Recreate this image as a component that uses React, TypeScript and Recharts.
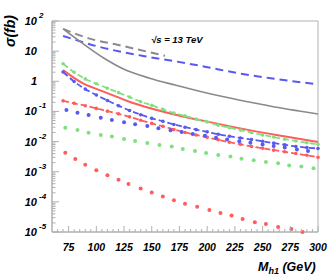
import React from 'react'
import { LineChart, Line, XAxis, YAxis, ReferenceArea } from 'recharts'

// couleurs
const GRAY = '#8a8a8a'
const BLUE = '#5858f2'
const RED = '#ff5c5c'
const GREEN = '#80e080'
const AXIS = '#b0b0b0'
const FONT = '"Liberation Sans", Arial, sans-serif'

// abscisses communes des courbes tiretées-pointées
const X10 = [70, 80, 90, 100, 110, 120, 130, 140, 150, 160, 170, 180, 190, 200, 210, 220, 230, 240, 250, 260, 270, 280, 290, 300]
const GREEN_DD = [3.8, 2.0, 1.2, 0.83, 0.59, 0.42, 0.30, 0.21, 0.16, 0.117, 0.089, 0.071, 0.056, 0.045, 0.035, 0.029, 0.024, 0.020, 0.0166, 0.0141, 0.012, 0.0105, 0.0091, 0.0081]
const BLUE_DD = [2.04, 0.98, 0.55, 0.35, 0.23, 0.155, 0.107, 0.078, 0.059, 0.047, 0.037, 0.030, 0.025, 0.021, 0.0174, 0.0151, 0.0132, 0.0117, 0.0102, 0.0089, 0.0078, 0.0069, 0.0063, 0.0059]
const RED_DD = [0.224, 0.186, 0.155, 0.126, 0.102, 0.083, 0.066, 0.051, 0.040, 0.032, 0.025, 0.020, 0.0166, 0.0138, 0.0115, 0.0095, 0.0081, 0.0069, 0.0060, 0.0052, 0.0046, 0.0040, 0.0035, 0.0030]

// lignes pleines / tiretées
const RED_SOLID_X = [70, 88, 103, 118, 133, 148, 178, 208, 238, 268, 300]
const RED_SOLID = [2.34, 0.85, 0.51, 0.31, 0.19, 0.13, 0.068, 0.040, 0.024, 0.0153, 0.0097]
const GRAY_SOLID_X = [70, 85, 107, 125, 148, 171, 193, 216, 238, 261, 283, 300]
const GRAY_SOLID = [55, 21.3, 5.8, 2.5, 1.27, 0.75, 0.47, 0.30, 0.205, 0.14, 0.103, 0.082]
const GRAY_DASH_X = [70, 94, 121, 148, 162]
const GRAY_DASH = [55, 26, 15.7, 9.2, 7.0]
const BLUE_DASH_X = [70, 103, 142, 169, 199, 229, 259, 300]
const BLUE_DASH = [31.9, 13.8, 6.95, 4.75, 3.0, 1.82, 1.24, 0.79]

// séries en points seuls
const RED_DOT_X = [72, 81, 90, 100, 110, 120, 129, 140, 150, 160, 170, 180, 191, 202, 212, 222, 232, 243, 253, 264, 276, 286]
const RED_DOT = [4.27e-3, 2.66e-3, 1.69e-3, 1.12e-3, 7.7e-4, 5.4e-4, 3.9e-4, 2.77e-4, 2.04e-4, 1.51e-4, 1.12e-4, 8.6e-5, 6.9e-5, 5.4e-5, 4.3e-5, 3.5e-5, 2.7e-5, 2.1e-5, 1.84e-5, 1.47e-5, 1.26e-5, 1.0e-5]
const GREEN_DOT_X = [72, 83, 93, 104, 114, 125, 135, 146, 157, 168, 178, 189, 199, 210, 221, 231, 242, 253, 264, 274, 285, 296]
const GREEN_DOT = [0.0288, 0.0242, 0.0197, 0.0166, 0.0146, 0.0122, 0.0105, 0.0090, 0.0077, 0.0068, 0.0057, 0.0049, 0.0042, 0.0036, 0.0032, 0.0027, 0.0024, 0.0021, 0.0019, 0.0016, 0.0015, 0.0013]
const BLUE_DOT_X = [73, 83, 93, 104, 114, 125, 135, 146, 156, 167, 177, 187, 198, 208, 218, 229, 239, 250, 260, 270, 281, 291]
const BLUE_DOT = [0.111, 0.0906, 0.076, 0.0618, 0.0519, 0.0436, 0.0374, 0.0329, 0.0278, 0.0239, 0.0207, 0.0179, 0.0155, 0.0135, 0.0117, 0.0103, 0.0091, 0.0080, 0.0071, 0.0063, 0.0055, 0.0049]

// graduations
const X_TICKS = [65, 70, 75, 80, 85, 90, 95, 100, 105, 110, 115, 120, 125, 130, 135, 140, 145, 150, 155, 160, 165, 170, 175, 180, 185, 190, 195, 200, 205, 210, 215, 220, 225, 230, 235, 240, 245, 250, 255, 260, 265, 270, 275, 280, 285, 290, 295, 300]
const X_LABELS = [75, 100, 125, 150, 175, 200, 225, 250, 275, 300]
const DECADES = [-5, -4, -3, -2, -1, 0, 1, 2]
const Y_TICKS: number[] = []
DECADES.forEach((e) => {
  Y_TICKS.push(Math.pow(10, e))
  if (e < 2) for (let m = 2; m <= 9; m++) Y_TICKS.push(m * Math.pow(10, e))
})

const pts = (xs: number[], ys: number[]) => xs.map((x, i) => ({ x, y: ys[i] }))

const XTick = (props: any) => {
  const { x, y, payload } = props
  const v = payload.value
  const major = X_LABELS.includes(v)
  return (
    <g>
      <line x1={x} x2={x} y1={y} y2={y - (major ? 6 : 3)} stroke={AXIS} />
      {major && (
        <text x={x} y={y + 19} textAnchor="middle" fontSize={10.5} fontWeight="bold" fontStyle="italic" fontFamily={FONT} fill="#000">
          {v}
        </text>
      )}
    </g>
  )
}

const YTick = (props: any) => {
  const { x, y, payload } = props
  const lg = Math.log10(payload.value)
  const e = Math.round(lg)
  const major = Math.abs(lg - e) < 1e-6
  const txt = { fontWeight: 'bold', fontStyle: 'italic', fontFamily: FONT, fill: '#000' } as const
  return (
    <g>
      <line x1={x} x2={x + (major ? 7 : 3.5)} y1={y} y2={y} stroke={AXIS} />
      {major && (
        <g>
          <text x={37} y={y + 4} textAnchor="end" fontSize={11} {...txt}>
            {e === 0 ? '1' : '10'}
          </text>
          {e !== 0 && e !== 1 && (
            <text x={39} y={y - 3} fontSize={8} {...txt}>
              {e}
            </text>
          )}
        </g>
      )}
    </g>
  )
}

export default function App() {
  return (
    <div style={{ position: 'absolute', left: 0, top: 0, width: 330, height: 279, background: '#fff' }}>
      <LineChart width={330} height={279} margin={{ top: 21, right: 12, bottom: 17, left: 0 }}>
        <XAxis
          type="number"
          dataKey="x"
          domain={[60, 300]}
          ticks={X_TICKS}
          interval={0}
          tickSize={0}
          tickMargin={0}
          tick={XTick}
          axisLine={{ stroke: AXIS }}
          height={30}
          allowDuplicatedCategory={false}
        />
        <YAxis
          type="number"
          scale="log"
          domain={[1e-5, 100]}
          ticks={Y_TICKS}
          interval={0}
          tickSize={0}
          tickMargin={0}
          tick={YTick}
          axisLine={{ stroke: AXIS }}
          width={52}
        />
        <ReferenceArea x1={60} x2={300} y1={1e-5} y2={100} fill="none" stroke={AXIS} strokeWidth={1} />

        <Line data={pts(GRAY_DASH_X, GRAY_DASH)} dataKey="y" type="monotone" stroke={GRAY} strokeWidth={2} strokeDasharray="8 5" dot={false} activeDot={false} isAnimationActive={false} />
        <Line data={pts(BLUE_DASH_X, BLUE_DASH)} dataKey="y" type="monotone" stroke={BLUE} strokeWidth={2} strokeDasharray="8 5" dot={false} activeDot={false} isAnimationActive={false} />
        <Line data={pts(GRAY_SOLID_X, GRAY_SOLID)} dataKey="y" type="monotone" stroke={GRAY} strokeWidth={1.6} dot={false} activeDot={false} isAnimationActive={false} />

        <Line data={pts(X10, RED_DD)} dataKey="y" type="monotone" stroke={RED} strokeWidth={1.8} strokeDasharray="6 3" dot={{ r: 1.8, fill: RED, stroke: 'none' }} activeDot={false} isAnimationActive={false} />
        <Line data={pts(X10, BLUE_DD)} dataKey="y" type="monotone" stroke={BLUE} strokeWidth={1.8} strokeDasharray="6 3" dot={{ r: 1.8, fill: BLUE, stroke: 'none' }} activeDot={false} isAnimationActive={false} />
        <Line data={pts(RED_SOLID_X, RED_SOLID)} dataKey="y" type="monotone" stroke={RED} strokeWidth={2} dot={false} activeDot={false} isAnimationActive={false} />
        <Line data={pts(X10, GREEN_DD)} dataKey="y" type="monotone" stroke={GREEN} strokeWidth={1.8} strokeDasharray="6 3" dot={{ r: 1.8, fill: GREEN, stroke: 'none' }} activeDot={false} isAnimationActive={false} />

        <Line data={pts(BLUE_DOT_X, BLUE_DOT)} dataKey="y" stroke="none" strokeWidth={0} dot={{ r: 2, fill: BLUE, stroke: 'none' }} activeDot={false} isAnimationActive={false} />
        <Line data={pts(GREEN_DOT_X, GREEN_DOT)} dataKey="y" stroke="none" strokeWidth={0} dot={{ r: 2, fill: GREEN, stroke: 'none' }} activeDot={false} isAnimationActive={false} />
        <Line data={pts(RED_DOT_X, RED_DOT)} dataKey="y" stroke="none" strokeWidth={0} dot={{ r: 2, fill: RED, stroke: 'none' }} activeDot={false} isAnimationActive={false} />
      </LineChart>

      <svg width={330} height={279} style={{ position: 'absolute', left: 0, top: 0, pointerEvents: 'none' }}>
        <g fontFamily={FONT} fontWeight="bold" fontStyle="italic" fill="#000">
          <text transform="translate(15,31) rotate(-90)" textAnchor="middle" fontSize={14}>σ(fb)</text>
          <text x={151} y={42.5} fontSize={9.5}>√s = 13 TeV</text>
          <text x={258} y={271} fontSize={12.5}>
            M<tspan fontSize={9} dy={3}>h1</tspan>
            <tspan dy={-3}> (GeV)</tspan>
          </text>
        </g>
      </svg>
    </div>
  )
}
